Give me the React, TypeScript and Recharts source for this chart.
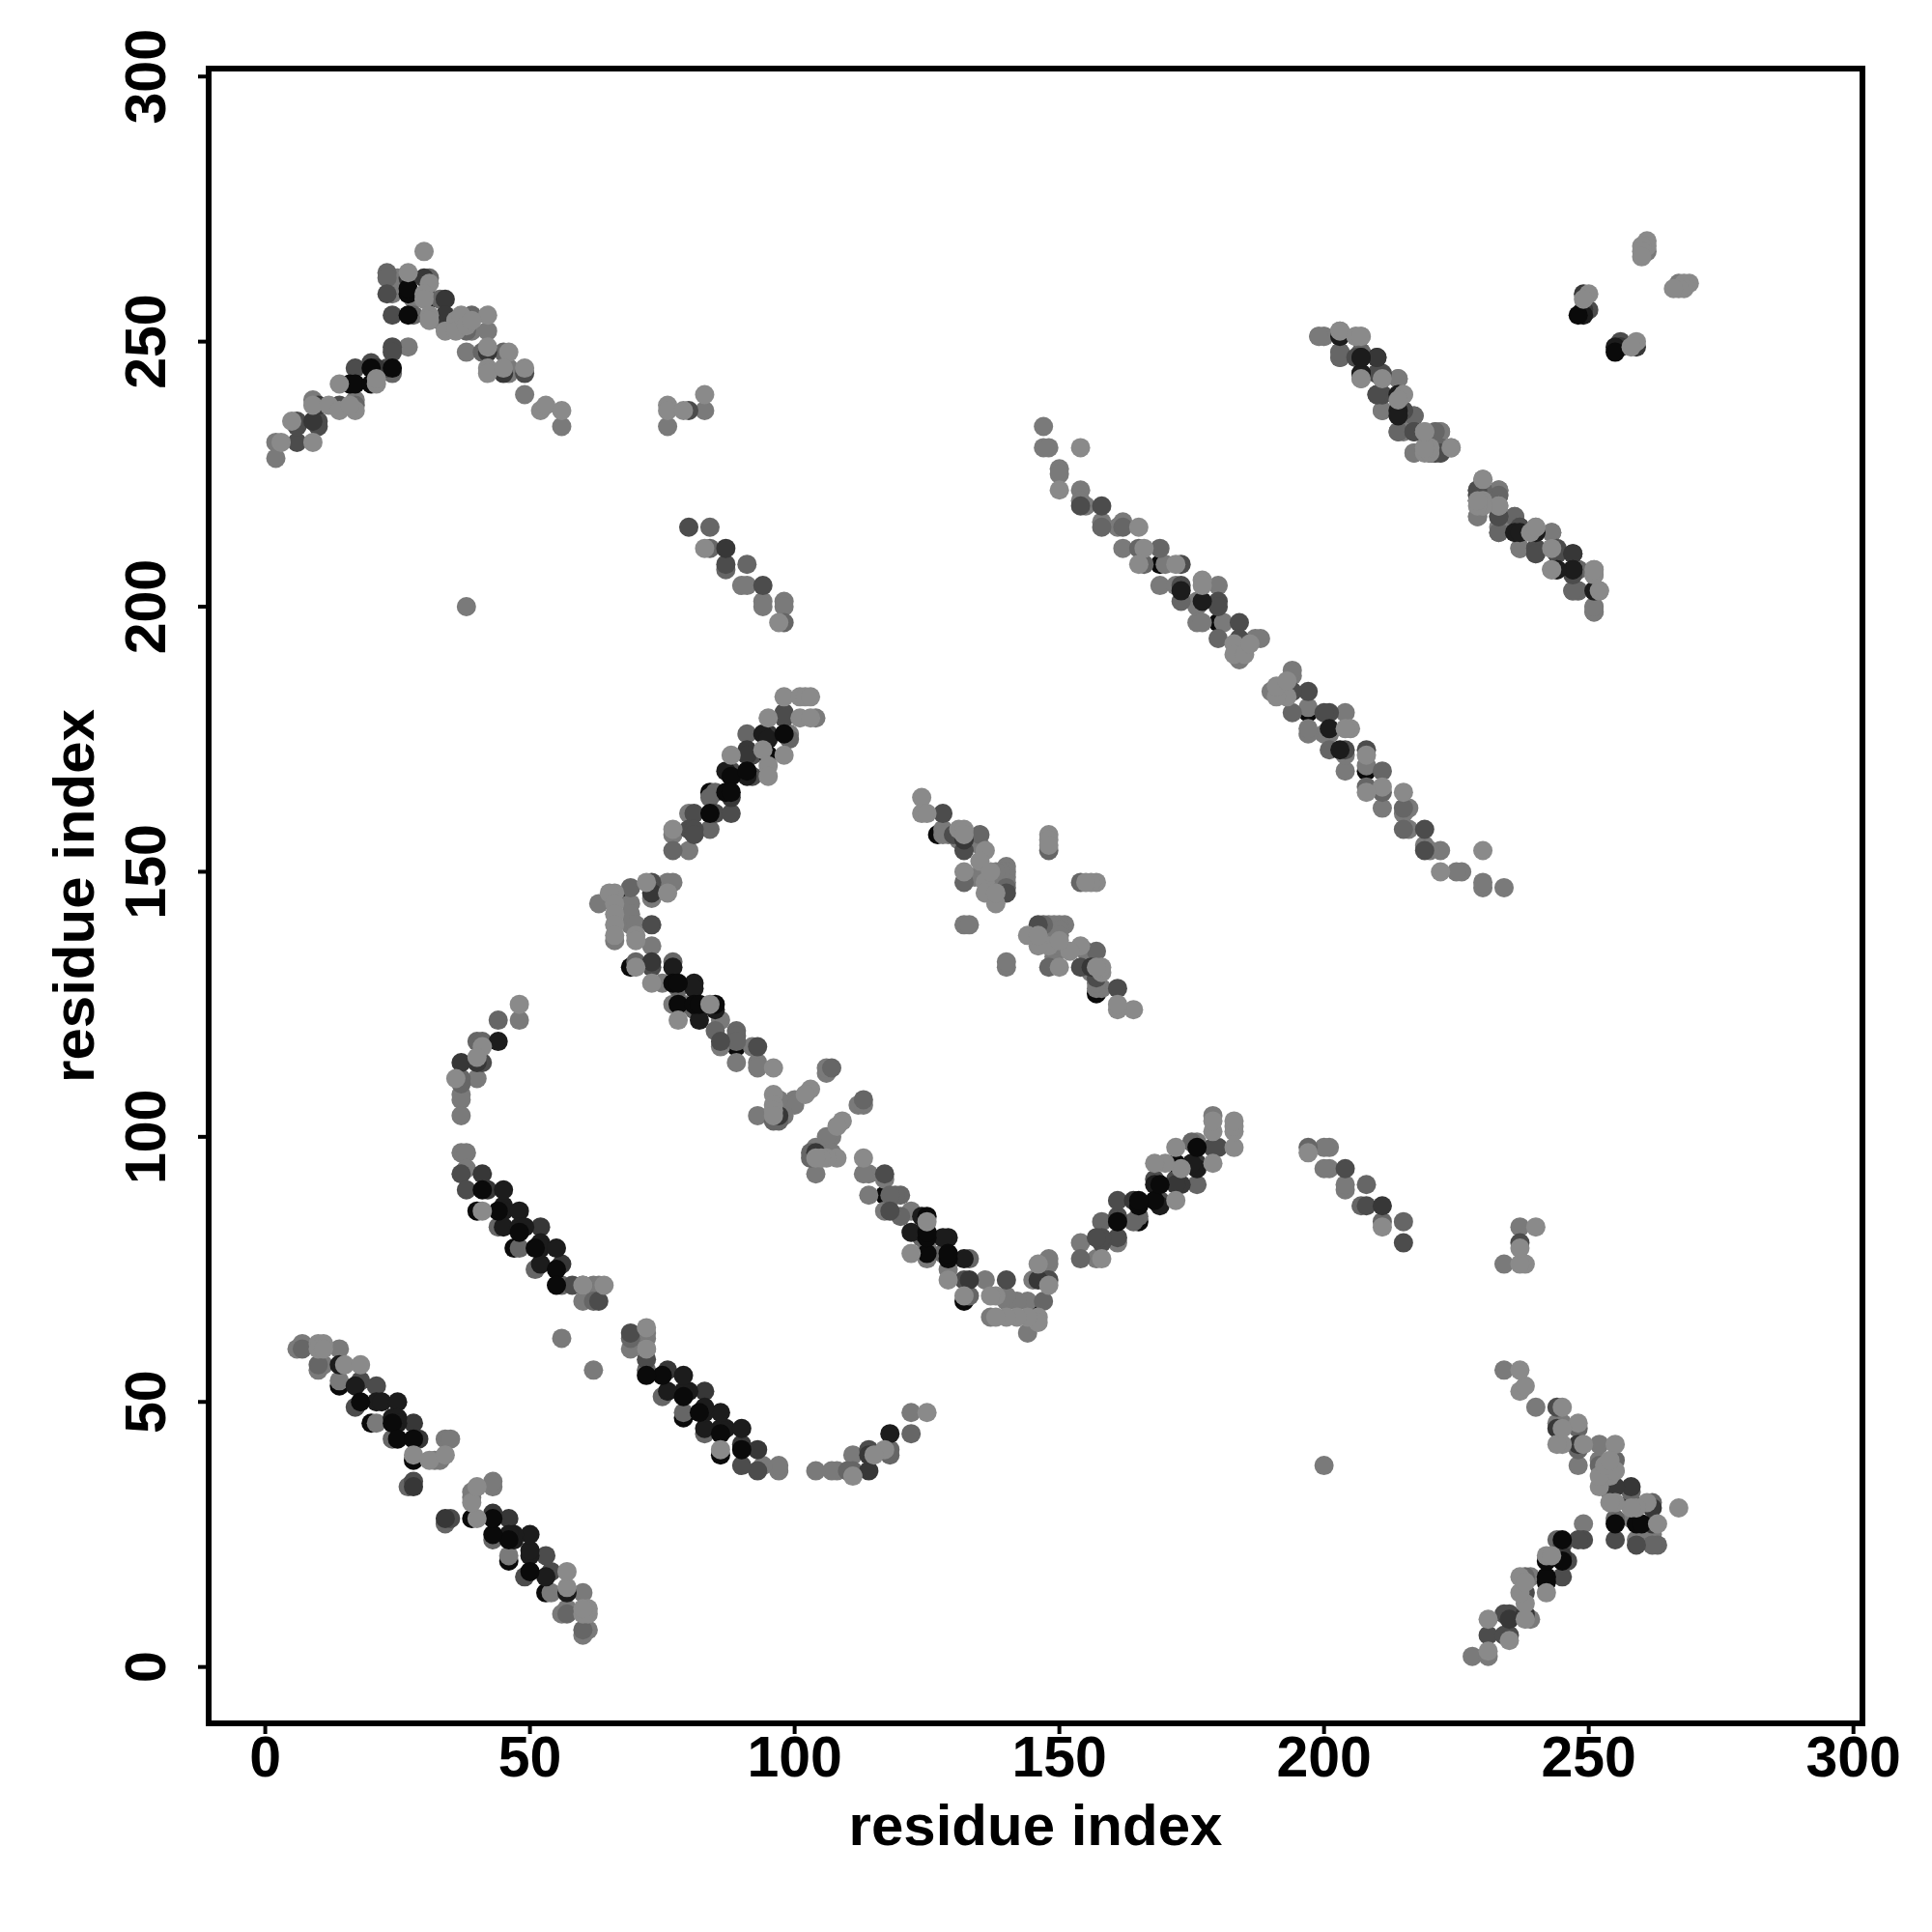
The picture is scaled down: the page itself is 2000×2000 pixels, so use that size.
import { ScatterChart, Scatter, XAxis, YAxis, ReferenceArea } from "recharts";

type Pair = [number, number];

const axisTicks = [0, 50, 100, 150, 200, 250, 300];
const axisTitle = "residue index";
const fontFamily = "'Liberation Sans', Arial, sans-serif";

// contacts by grey level. second block of each list is the same map read below the diagonal
// black dots that only show as a crescent under a lighter neighbour
const buriedDots: Pair[] = [
  [31,258],[68,145],[69,132],[84,165],[89,117],[127,157],[169,208],[180,197],[40,86],[47,79],[14,53],[20,46],[28,39],
  [258,31],[145,68],[132,69],[165,84],[117,89],[157,127],[208,169],[197,180],[86,40],[79,47],[53,14],[46,20],[39,28],
];
const blackDots: Pair[] = [
  [27,259],[27,260],[27,255],[16,242],[17,242],[20,245],[20,242],[24,245],[98,176],[95,172],[88,168],[91,169],[87,165],[88,165],[84,161],[77,129],[78,129],[78,125],[81,125],[82,125],[85,125],[248,255],[41,90],[44,86],[48,82],[51,79],[55,75],[55,72],[18,50],[24,46],[25,43],[28,43],
  [259,27],[260,27],[255,27],[242,16],[242,17],[245,20],[242,20],[245,24],[176,98],[172,95],[168,88],[169,91],[165,87],[165,88],[161,84],[129,77],[129,78],[125,78],[125,81],[125,82],[125,85],[255,248],[90,41],[86,44],[82,48],[79,51],[75,55],[72,55],[50,18],[46,24],[43,25],[43,28],
];
const nearBlackDots: Pair[] = [
  [94,176],[95,175],[87,169],[91,168],[77,132],[81,129],[81,128],[82,124],[85,124],[82,122],[44,118],[177,201],[173,203],[229,220],[236,214],[244,207],[247,207],[251,203],[207,247],[207,244],[214,240],[214,237],[45,87],[45,86],[48,86],[45,83],[48,83],[49,83],[52,80],[52,79],[52,76],[55,79],[45,90],[14,57],[17,53],[21,50],[22,50],[25,50],[24,47],[25,47],[25,46],[249,255],
  [176,94],[175,95],[169,87],[168,91],[132,77],[129,81],[128,81],[124,82],[124,85],[122,82],[118,44],[201,177],[203,173],[220,229],[214,236],[207,244],[207,247],[203,251],[247,207],[244,207],[240,214],[237,214],[87,45],[86,45],[86,48],[83,45],[83,48],[83,49],[80,52],[79,52],[76,52],[79,55],[90,45],[57,14],[53,17],[50,21],[50,22],[50,25],[47,24],[47,25],[46,25],[255,249],
];
const darkDots: Pair[] = [
  [27,262],[30,262],[34,258],[34,255],[42,248],[45,244],[9,235],[10,238],[21,245],[87,211],[95,176],[91,173],[91,172],[88,164],[73,146],[73,133],[97,104],[132,156],[240,214],[247,210],[210,247],[249,259],[249,256],[256,249],[37,114],[40,114],[41,93],[42,90],[52,83],[56,76],[28,46],[29,43],[28,34],
  [262,27],[262,30],[258,34],[255,34],[248,42],[244,45],[235,9],[238,10],[245,21],[211,87],[176,95],[173,91],[172,91],[164,88],[146,73],[133,73],[104,97],[156,132],[214,240],[210,247],[247,210],[259,249],[256,249],[249,256],[114,37],[114,40],[93,41],[90,42],[83,52],[76,56],[46,28],[43,29],[34,28],
];
const deepDots: Pair[] = [
  [23,259],[24,255],[34,254],[49,244],[6,231],[6,235],[6,234],[10,235],[10,234],[14,238],[17,245],[20,246],[24,249],[24,248],[23,245],[80,237],[80,215],[87,208],[94,204],[98,180],[98,179],[92,172],[88,169],[92,168],[85,161],[81,161],[88,161],[80,158],[81,158],[81,157],[73,148],[73,147],[73,140],[73,132],[86,118],[93,117],[128,161],[130,157],[132,154],[140,146],[154,219],[158,219],[173,208],[173,204],[180,201],[180,200],[184,197],[184,194],[203,251],[206,247],[210,244],[211,240],[215,237],[217,233],[221,229],[222,229],[210,240],[233,217],[237,215],[237,214],[240,211],[240,210],[244,211],[244,210],[256,250],[41,114],[37,93],[38,90],[58,72],[63,69],[18,54],[17,49],[21,53],[28,35],
  [259,23],[255,24],[254,34],[244,49],[231,6],[235,6],[234,6],[235,10],[234,10],[238,14],[245,17],[246,20],[249,24],[248,24],[245,23],[237,80],[215,80],[208,87],[204,94],[180,98],[179,98],[172,92],[169,88],[168,92],[161,85],[161,81],[161,88],[158,80],[158,81],[157,81],[148,73],[147,73],[140,73],[132,73],[118,86],[117,93],[161,128],[157,130],[154,132],[146,140],[219,154],[219,158],[208,173],[204,173],[201,180],[200,180],[197,184],[194,184],[251,203],[247,206],[244,210],[240,211],[237,215],[233,217],[229,221],[229,222],[240,210],[217,233],[215,237],[214,237],[211,240],[210,240],[211,244],[210,244],[250,256],[114,41],[93,37],[90,38],[72,58],[69,63],[54,18],[49,17],[53,21],[35,28],
];
const steelDots: Pair[] = [
  [23,263],[23,262],[31,262],[33,258],[28,255],[39,255],[38,252],[41,248],[45,248],[17,238],[24,244],[84,215],[84,211],[87,207],[91,208],[98,197],[91,176],[99,175],[85,165],[84,164],[84,158],[77,154],[69,147],[70,133],[77,133],[78,128],[81,124],[85,120],[89,120],[89,119],[89,118],[96,103],[97,103],[107,113],[132,148],[135,157],[148,154],[140,147],[158,215],[162,215],[165,211],[169,211],[166,208],[173,201],[180,194],[203,248],[203,247],[207,248],[217,236],[214,233],[222,230],[229,222],[233,221],[233,214],[236,217],[243,211],[247,203],[248,203],[248,207],[44,122],[40,118],[41,118],[37,111],[37,110],[44,83],[48,79],[51,75],[56,72],[60,72],[62,69],[7,60],[10,57],[24,43],[27,34],
  [263,23],[262,23],[262,31],[258,33],[255,28],[255,39],[252,38],[248,41],[248,45],[238,17],[244,24],[215,84],[211,84],[207,87],[208,91],[197,98],[176,91],[175,99],[165,85],[164,84],[158,84],[154,77],[147,69],[133,70],[133,77],[128,78],[124,81],[120,85],[120,89],[119,89],[118,89],[103,96],[103,97],[113,107],[148,132],[157,135],[154,148],[147,140],[215,158],[215,162],[211,165],[211,169],[208,166],[201,173],[194,180],[248,203],[247,203],[248,207],[236,217],[233,214],[230,222],[222,229],[221,233],[214,233],[217,236],[211,243],[203,247],[203,248],[207,248],[122,44],[118,40],[118,41],[111,37],[110,37],[83,44],[79,48],[75,51],[72,56],[72,60],[69,62],[60,7],[57,10],[43,24],[34,27],
];
const midDots: Pair[] = [
  [25,262],[24,259],[28,258],[33,254],[39,252],[42,252],[38,248],[46,245],[46,244],[49,240],[56,234],[2,228],[2,231],[9,239],[17,239],[27,249],[38,200],[76,234],[83,237],[90,204],[91,204],[94,201],[94,200],[98,201],[98,200],[104,179],[99,176],[80,161],[77,157],[80,154],[76,148],[77,148],[73,145],[63,144],[66,137],[69,144],[69,142],[69,140],[70,140],[73,136],[75,129],[77,125],[79,125],[86,122],[86,117],[89,114],[92,117],[93,114],[93,113],[106,112],[106,113],[100,107],[100,106],[97,107],[98,104],[93,104],[128,158],[128,157],[129,157],[131,156],[132,155],[135,155],[134,149],[135,149],[136,150],[137,147],[140,151],[140,150],[140,149],[140,148],[139,148],[138,148],[139,150],[138,150],[139,146],[132,140],[133,140],[147,234],[147,230],[148,230],[150,226],[150,225],[154,222],[154,220],[155,219],[158,216],[162,216],[161,215],[162,211],[170,208],[169,204],[172,204],[176,201],[176,200],[180,204],[176,197],[177,197],[181,197],[184,191],[184,190],[187,194],[188,194],[199,251],[200,251],[214,243],[211,237],[215,236],[221,233],[222,233],[217,229],[224,230],[229,221],[229,217],[233,222],[233,215],[243,214],[237,211],[243,207],[251,207],[251,206],[252,203],[251,200],[251,199],[261,267],[48,122],[40,111],[37,108],[37,107],[37,104],[37,97],[38,97],[38,94],[62,72],[63,72],[60,69],[56,62],[6,60],[7,61],[14,60],[11,57],[10,56],[14,54],[21,46],[32,39],[33,39],[34,43],[35,43],
  [262,25],[259,24],[258,28],[254,33],[252,39],[252,42],[248,38],[245,46],[244,46],[240,49],[234,56],[228,2],[231,2],[239,9],[239,17],[249,27],[200,38],[234,76],[237,83],[204,90],[204,91],[201,94],[200,94],[201,98],[200,98],[179,104],[176,99],[161,80],[157,77],[154,80],[148,76],[148,77],[145,73],[144,63],[137,66],[144,69],[142,69],[140,69],[140,70],[136,73],[129,75],[125,77],[125,79],[122,86],[117,86],[114,89],[117,92],[114,93],[113,93],[112,106],[113,106],[107,100],[106,100],[107,97],[104,98],[104,93],[158,128],[157,128],[157,129],[156,131],[155,132],[155,135],[149,134],[149,135],[150,136],[147,137],[151,140],[150,140],[149,140],[148,140],[148,139],[148,138],[150,139],[150,138],[146,139],[140,132],[140,133],[234,147],[230,147],[230,148],[226,150],[225,150],[222,154],[220,154],[219,155],[216,158],[216,162],[215,161],[211,162],[208,170],[204,169],[204,172],[201,176],[200,176],[204,180],[197,176],[197,177],[197,181],[191,184],[190,184],[194,187],[194,188],[251,199],[251,200],[243,214],[237,211],[236,215],[233,221],[233,222],[229,217],[230,224],[221,229],[217,229],[222,233],[215,233],[214,243],[211,237],[207,243],[207,251],[206,251],[203,252],[200,251],[199,251],[267,261],[122,48],[111,40],[108,37],[107,37],[104,37],[97,37],[97,38],[94,38],[72,62],[72,63],[69,60],[62,56],[60,6],[61,7],[60,14],[57,11],[56,10],[54,14],[46,21],[39,32],[39,33],[43,34],[43,35],
];
const lightDots: Pair[] = [
  [30,267],[27,263],[31,261],[30,259],[30,258],[31,255],[31,254],[36,254],[34,252],[36,252],[37,255],[42,255],[38,253],[39,254],[42,249],[46,248],[42,245],[42,244],[45,245],[49,245],[52,237],[53,238],[56,237],[3,231],[9,231],[5,235],[9,238],[12,238],[14,237],[17,237],[16,238],[14,242],[21,242],[21,243],[83,240],[76,238],[76,237],[79,237],[83,211],[97,197],[98,183],[101,183],[102,183],[103,183],[95,179],[101,179],[103,179],[94,173],[98,172],[88,172],[95,170],[95,168],[77,158],[72,148],[76,146],[66,146],[65,146],[66,144],[66,142],[66,140],[66,138],[70,138],[70,137],[70,132],[73,129],[78,122],[84,125],[96,113],[103,109],[102,108],[96,108],[96,106],[96,105],[96,104],[124,164],[124,161],[125,161],[131,158],[132,158],[132,157],[136,154],[148,157],[148,156],[148,155],[132,150],[135,152],[136,148],[136,146],[137,150],[138,144],[138,146],[154,230],[150,222],[165,215],[166,211],[165,208],[172,208],[177,205],[177,204],[183,193],[183,191],[185,191],[186,193],[261,269],[261,268],[260,268],[260,267],[260,266],[250,259],[249,258],[203,252],[206,251],[207,251],[207,243],[211,243],[215,240],[219,233],[219,230],[219,229],[220,229],[230,224],[230,220],[230,219],[233,219],[240,215],[239,214],[48,125],[41,117],[40,115],[36,111],[41,86],[64,72],[60,72],[10,61],[11,61],[10,60],[11,60],[15,57],[18,57],[28,40],[31,39],[34,40],
  [267,30],[263,27],[261,31],[259,30],[258,30],[255,31],[254,31],[254,36],[252,34],[252,36],[255,37],[255,42],[253,38],[254,39],[249,42],[248,46],[245,42],[244,42],[245,45],[245,49],[237,52],[238,53],[237,56],[231,3],[231,9],[235,5],[238,9],[238,12],[237,14],[237,17],[238,16],[242,14],[242,21],[243,21],[240,83],[238,76],[237,76],[237,79],[211,83],[197,97],[183,98],[183,101],[183,102],[183,103],[179,95],[179,101],[179,103],[173,94],[172,98],[172,88],[170,95],[168,95],[158,77],[148,72],[146,76],[146,66],[146,65],[144,66],[142,66],[140,66],[138,66],[138,70],[137,70],[132,70],[129,73],[122,78],[125,84],[113,96],[109,103],[108,102],[108,96],[106,96],[105,96],[104,96],[164,124],[161,124],[161,125],[158,131],[158,132],[157,132],[154,136],[157,148],[156,148],[155,148],[150,132],[152,135],[148,136],[146,136],[150,137],[144,138],[146,138],[230,154],[222,150],[215,165],[211,166],[208,165],[208,172],[205,177],[204,177],[193,183],[191,183],[191,185],[193,186],[269,261],[268,261],[268,260],[267,260],[266,260],[259,250],[258,249],[252,203],[251,206],[251,207],[243,207],[243,211],[240,215],[233,219],[230,219],[229,219],[229,220],[224,230],[220,230],[219,230],[219,233],[215,240],[214,239],[125,48],[117,41],[115,40],[111,36],[86,41],[72,64],[72,60],[61,10],[61,11],[60,10],[60,11],[57,15],[57,18],[40,28],[39,31],[40,34],
];

// paint order: mid greys under the dark core, the lightest dots last
const greyLevels: { name: string; dots: Pair[]; fill: string }[] = [
  { name: "buried", dots: buriedDots, fill: "#0a0a0a" },
  { name: "mid", dots: midDots, fill: "#7a7a7a" },
  { name: "steel", dots: steelDots, fill: "#666666" },
  { name: "deep", dots: deepDots, fill: "#4c4c4c" },
  { name: "dark", dots: darkDots, fill: "#373737" },
  { name: "nearBlack", dots: nearBlackDots, fill: "#1c1c1c" },
  { name: "black", dots: blackDots, fill: "#0a0a0a" },
  { name: "light", dots: lightDots, fill: "#8a8a8a" },
];

const XTick = ({ x, payload }: any) => (
  <g>
    <text x={x} y={1831} textAnchor="middle" fontFamily={fontFamily} fontWeight="bold" fontSize={59} fill="#000">
      {payload.value}
    </text>
  </g>
);

const YTick = ({ y, payload }: any) => (
  <g>
    <text
      transform={`translate(162.5 ${y}) rotate(-90)`}
      textAnchor="middle"
      fontFamily={fontFamily}
      fontWeight="bold"
      fontSize={59}
      fill="#000"
    >
      {payload.value}
    </text>
  </g>
);

const Dot = ({ cx, cy, fill }: any) => <circle cx={cx} cy={cy} r={10} fill={fill} />;

export default function App() {
  return (
    <ScatterChart width={1984} height={1984} margin={{ top: 63, right: 64, bottom: 68, left: 108 }}>
      <XAxis
        type="number"
        dataKey="x"
        domain={[-10.69, 301.7]}
        ticks={axisTicks}
        allowDataOverflow
        axisLine={false}
        height={140}
        tickSize={11}
        tickLine={{ stroke: "#000", strokeWidth: 4 }}
        tick={<XTick />}
        label={{
          value: axisTitle,
          position: "insideBottom",
          offset: 14,
          style: { fontFamily, fontWeight: "bold", fontSize: 60, fill: "#000" },
        }}
      />
      <YAxis
        type="number"
        dataKey="y"
        domain={[-10.63, 301.5]}
        ticks={axisTicks}
        allowDataOverflow
        axisLine={false}
        width={100}
        tickSize={11}
        tickLine={{ stroke: "#000", strokeWidth: 4 }}
        tick={<YTick />}
        label={{
          value: axisTitle,
          angle: -90,
          position: "insideLeft",
          offset: -40,
          style: { fontFamily, fontWeight: "bold", fontSize: 60, fill: "#000", textAnchor: "middle" },
        }}
      />
      {greyLevels.map((level) => (
        <Scatter
          key={level.name}
          data={level.dots.map(([x, y]) => ({ x, y }))}
          fill={level.fill}
          shape={<Dot />}
          isAnimationActive={false}
        />
      ))}
      <ReferenceArea
        x1={-10.69}
        x2={301.7}
        y1={-10.63}
        y2={301.5}
        fill="none"
        stroke="#000"
        strokeWidth={6}
        ifOverflow="visible"
      />
    </ScatterChart>
  );
}
